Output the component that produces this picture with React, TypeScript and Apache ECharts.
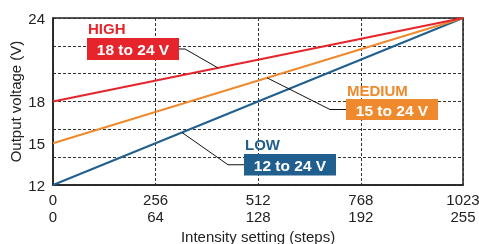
import React, { useEffect, useRef } from "react";
import * as echarts from "echarts";

// Tick values (10-bit steps) and the matching 8-bit steps
const steps10 = [0, 256, 512, 768, 1023];
const steps8 = [0, 64, 128, 192, 255];
// Y tick labels shown
const yLabels = [12, 15, 18, 24];

// Series: output voltage at step 0 and step 1023
const xEnds = [0, 1023];
const highVolts = [18, 24];
const mediumVolts = [15, 24];
const lowVolts = [12, 24];

const RED = "#e5252b";
const ORANGE = "#ee8a2d";
const BLUE = "#215f8e";
const FONT = "'Liberation Sans', Arial, sans-serif";

// Annotations: title, range, colour, anchor on the line (data coords)
const annNames = ["HIGH", "MEDIUM", "LOW"];
const annRanges = ["18 to 24 V", "15 to 24 V", "12 to 24 V"];
const annColors = [RED, ORANGE, BLUE];
const annAnchors: [number, number][] = [
  [412, 20.41],
  [534, 19.7],
  [322, 15.77],
];

export default function App() {
  const ref = useRef<HTMLDivElement>(null);
  useEffect(() => {
    if (!ref.current) return;
    const chart = echarts.init(ref.current, undefined, { renderer: "svg" });
    const mk = (v: number[]) => xEnds.map((x, i) => [x, v[i]]);
    chart.setOption({
      animation: false,
      textStyle: { fontFamily: FONT },
      grid: {
        left: 53,
        right: 16,
        top: 18,
        bottom: 59,
        containLabel: false,
        outerBoundsMode: "none",
        show: true,
        borderColor: "#222",
        borderWidth: 1.5,
        backgroundColor: "transparent",
      },
      xAxis: {
        type: "value",
        min: 0,
        max: 1023,
        interval: 256,
        name: "Intensity setting (steps)",
        nameLocation: "middle",
        nameGap: 44,
        nameMoveOverlap: false,
        nameTextStyle: { fontSize: 15, color: "#222", fontFamily: FONT },
        axisLine: { show: true, lineStyle: { color: "#222", width: 1.5 } },
        axisTick: { show: false },
        axisLabel: {
          fontSize: 15,
          color: "#222",
          fontFamily: FONT,
          lineHeight: 17,
          margin: 6,
          showMaxLabel: true,
          formatter: (v: number) => {
            const i = steps10.indexOf(v);
            return i >= 0 ? `${steps10[i]}\n${steps8[i]}` : "";
          },
        },
        splitLine: {
          show: true,
          lineStyle: { color: "#333", width: 1, type: [3, 2] },
        },
      },
      yAxis: [
        {
          type: "value",
          min: 12,
          max: 24,
          interval: 3,
          name: "Output voltage (V)",
          nameLocation: "middle",
          nameGap: 30,
          nameMoveOverlap: false,
          nameRotate: 90,
          nameTextStyle: { fontSize: 15, color: "#222", fontFamily: FONT },
          axisLine: { show: true, lineStyle: { color: "#222", width: 1.5 } },
          axisTick: { show: false },
          axisLabel: {
            fontSize: 15,
            color: "#222",
            fontFamily: FONT,
            margin: 8,
            formatter: (v: number) => (yLabels.includes(v) ? String(v) : ""),
          },
          splitLine: { show: false },
        },
        {
          type: "value",
          min: 12,
          max: 24,
          interval: 2,
          position: "left",
          axisLine: { show: false },
          axisTick: { show: false },
          axisLabel: { show: false },
          splitLine: {
            show: true,
            lineStyle: { color: "#333", width: 1, type: [3, 2] },
          },
        },
      ],
      series: [
        {
          type: "line",
          data: mk(lowVolts),
          symbol: "none",
          lineStyle: { color: BLUE, width: 2 },
          z: 3,
        },
        {
          type: "line",
          data: mk(mediumVolts),
          symbol: "none",
          lineStyle: { color: ORANGE, width: 2 },
          z: 3,
        },
        {
          type: "line",
          data: mk(highVolts),
          symbol: "none",
          lineStyle: { color: RED, width: 2 },
          z: 3,
        },
      ],
    });

    // annotation layout (pixels): title pos, box, leader elbow
    const boxes = [
      { x: 87, y: 38, w: 92, h: 22, tx: 88, ty: 28.5, side: "right", elbow: 185 },
      { x: 346, y: 99, w: 92, h: 21, tx: 347, ty: 90, side: "left", elbow: 330 },
      { x: 244, y: 154, w: 92, h: 21.5, tx: 245, ty: 144.3, side: "left", elbow: 228 },
    ];
    const graphic: any[] = [];
    boxes.forEach((b, i) => {
      const p = chart.convertToPixel({ xAxisIndex: 0, yAxisIndex: 0 }, annAnchors[i]) as number[];
      const cy = b.y + b.h / 2;
      const sx = b.side === "right" ? b.x + b.w : b.x;
      graphic.push({
        type: "polyline",
        shape: { points: [[sx, cy], [b.elbow, cy], [p[0], p[1]]] },
        style: { stroke: "#111", lineWidth: 1, fill: null },
        z: 100,
      });
      graphic.push({
        type: "rect",
        shape: { x: b.x, y: b.y, width: b.w, height: b.h },
        style: { fill: annColors[i] },
        z: 101,
      });
      graphic.push({
        type: "text",
        style: {
          text: annRanges[i],
          x: b.x + b.w / 2,
          y: cy + 0.5,
          fill: "#fff",
          font: `bold 15.5px ${FONT}`,
          align: "center",
          verticalAlign: "middle",
          textAlign: "center",
          textVerticalAlign: "middle",
        },
        z: 102,
      });
      graphic.push({
        type: "text",
        style: {
          text: annNames[i],
          x: b.tx,
          y: b.ty,
          fill: annColors[i],
          font: `bold 15px ${FONT}`,
          align: "left",
          verticalAlign: "middle",
          textAlign: "left",
          textVerticalAlign: "middle",
        },
        z: 102,
      });
    });
    chart.setOption({ graphic });

    return () => chart.dispose();
  }, []);
  return (
    <div
      ref={ref}
      style={{ position: "fixed", left: 0, top: 0, width: 479, height: 244 }}
    />
  );
}
